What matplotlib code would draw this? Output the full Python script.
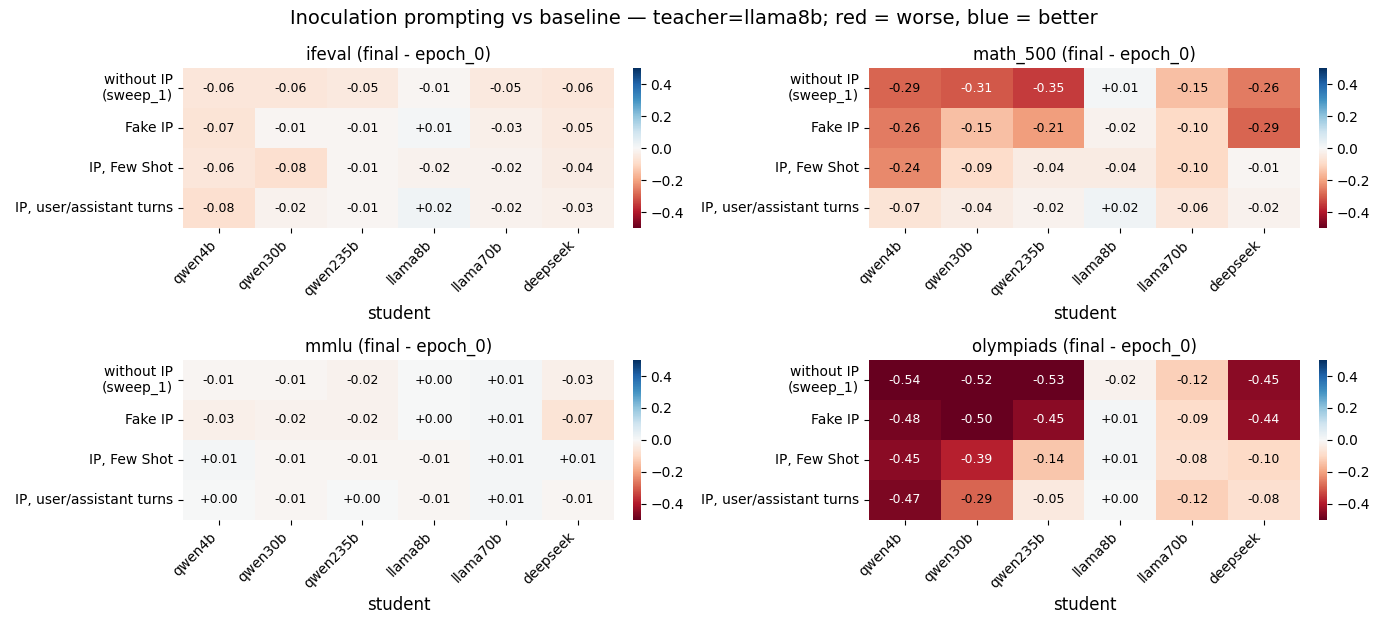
import numpy as np
import matplotlib
matplotlib.use("Agg")
import matplotlib.pyplot as plt
import seaborn as sns

students = ["qwen4b", "qwen30b", "qwen235b", "llama8b", "llama70b", "deepseek"]
conditions = ["without IP\n(sweep_1)", "Fake IP", "IP, Few Shot", "IP, user/assistant turns"]

ifeval = [[-0.06, -0.06, -0.05, -0.01, -0.05, -0.06],
          [-0.07, -0.01, -0.01, 0.01, -0.03, -0.05],
          [-0.06, -0.08, -0.01, -0.02, -0.02, -0.04],
          [-0.08, -0.02, -0.01, 0.02, -0.02, -0.03]]
math_500 = [[-0.29, -0.31, -0.35, 0.01, -0.15, -0.26],
            [-0.26, -0.15, -0.21, -0.02, -0.10, -0.29],
            [-0.24, -0.09, -0.04, -0.04, -0.10, -0.01],
            [-0.07, -0.04, -0.02, 0.02, -0.06, -0.02]]
mmlu = [[-0.01, -0.01, -0.02, 0.00, 0.01, -0.03],
        [-0.03, -0.02, -0.02, 0.00, 0.01, -0.07],
        [0.01, -0.01, -0.01, -0.01, 0.01, 0.01],
        [0.00, -0.01, 0.00, -0.01, 0.01, -0.01]]
olympiads = [[-0.54, -0.52, -0.53, -0.02, -0.12, -0.45],
             [-0.48, -0.50, -0.45, 0.01, -0.09, -0.44],
             [-0.45, -0.39, -0.14, 0.01, -0.08, -0.10],
             [-0.47, -0.29, -0.05, 0.00, -0.12, -0.08]]

panels = [("ifeval", ifeval), ("math_500", math_500),
          ("mmlu", mmlu), ("olympiads", olympiads)]

fig, axes = plt.subplots(2, 2, figsize=(13.87, 6.22))
for ax, (name, vals) in zip(axes.flat, panels):
    vals = np.array(vals)
    sns.heatmap(vals, ax=ax, cmap="RdBu", vmin=-0.5, vmax=0.5, center=0,
                annot=False, xticklabels=students, yticklabels=conditions,
                cbar_kws={"ticks": [-0.4, -0.2, 0.0, 0.2, 0.4],
                          "fraction": 0.046, "pad": 0.04})
    # annotate, white text on the darker cells
    for i in range(vals.shape[0]):
        for j in range(vals.shape[1]):
            v = vals[i, j]
            ax.text(j + 0.5, i + 0.5, f"{v:+.2f}", ha="center", va="center",
                    fontsize=9, color="white" if abs(v) > 0.3 else "black")
    ax.set_title(f"{name} (final - epoch_0)", fontsize=12)
    ax.set_xlabel("student", fontsize=12)
    ax.set_ylabel("")
    ax.set_xticklabels(students, rotation=45, ha="right")
    ax.set_yticklabels(conditions, rotation=0)

fig.suptitle("Inoculation prompting vs baseline \u2014 teacher=llama8b; red = worse, blue = better",
             fontsize=14, y=0.985)
fig.tight_layout(rect=(0, -0.012, 1, 1.005))
fig.savefig("out.png", dpi=100)
